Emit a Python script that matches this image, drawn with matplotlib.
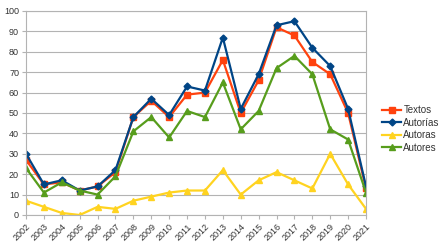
import matplotlib
matplotlib.use("Agg")
import matplotlib.pyplot as plt

years = ["2002","2003","2004","2005","2006","2007","2008","2009","2010","2011",
         "2012","2013","2014","2015","2016","2017","2018","2019","2020","2021"]
textos   = [27, 15, 16, 12, 14, 21, 48, 56, 48, 59, 60, 76, 50, 66, 92, 88, 75, 69, 50, 13]
autorias = [30, 15, 17, 12, 14, 22, 48, 57, 49, 63, 61, 87, 52, 69, 93, 95, 82, 73, 52, 14]
autoras  = [7, 4, 1, 0, 4, 3, 7, 9, 11, 12, 12, 22, 10, 17, 21, 17, 13, 30, 15, 3]
autores  = [23, 11, 16, 12, 10, 19, 41, 48, 38, 51, 48, 65, 42, 51, 72, 78, 69, 42, 37, 11]
yticks = [0, 10, 20, 30, 40, 50, 60, 70, 80, 90, 100]

plt.rcParams['font.family'] = ['Liberation Sans', 'DejaVu Sans']
fig = plt.figure(figsize=(4.4, 2.52), dpi=100)
ax = fig.add_axes([26/440, 1-215/252, (366-26)/440, (215-11)/252])

x = list(range(len(years)))
ax.plot(x, textos, color='#ff420e', marker='s', markersize=4.5, lw=1.6, label='Textos')
ax.plot(x, autorias, color='#004586', marker='D', markersize=3.5, lw=1.6, label='Autorías')
ax.plot(x, autoras, color='#ffd320', marker='^', markersize=5, lw=1.6, label='Autoras')
ax.plot(x, autores, color='#579d1c', marker='^', markersize=5, lw=1.6, label='Autores')

ax.set_xlim(0, len(years)-1)
ax.set_ylim(0, 100)
ax.set_yticks(yticks)
ax.set_xticks(x)
ax.set_xticklabels(years, rotation=45, ha='right', rotation_mode='anchor')
ax.tick_params(axis='both', labelsize=6.5, colors='#b3b3b3', labelcolor='#333333', length=3, width=0.8, pad=2)
ax.yaxis.grid(True, color='#b3b3b3', lw=0.8)
ax.set_axisbelow(True)
for s in ax.spines.values():
    s.set_color('#b3b3b3')
    s.set_linewidth(0.8)

leg = ax.legend(loc='center left', bbox_to_anchor=(382/440, 1-129/252), bbox_transform=fig.transFigure,
                frameon=False, fontsize=7, handlelength=2.0, handletextpad=0.2, labelspacing=0.25,
                borderaxespad=0, borderpad=0)
for t in leg.get_texts():
    t.set_color('#333333')

fig.savefig('out.png', dpi=100)
